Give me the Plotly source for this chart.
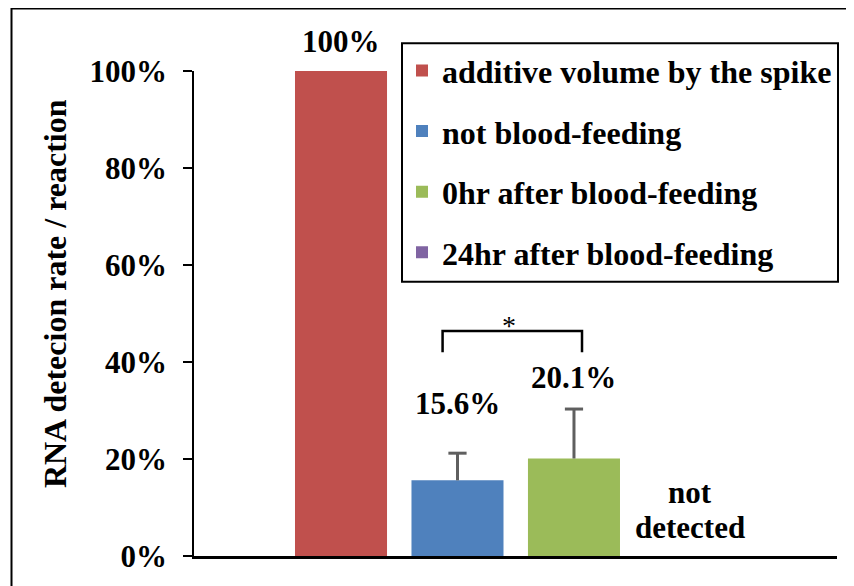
import plotly.graph_objects as go

# ---- data ----
series_names = ["additive volume by the spike", "not blood-feeding",
                "0hr after blood-feeding", "24hr after blood-feeding"]
values = [100.0, 15.6, 20.1, 0.0]
errors_up = [None, 5.6, 10.2, None]
value_labels = ["100%", "15.6%", "20.1%", None]
colors = ["#C0504D", "#4F81BD", "#9BBB59", "#8064A2"]
x_pos = [0, 1, 2, 3]
tick_vals = [0, 20, 40, 60, 80, 100]
tick_text = ["0%", "20%", "40%", "60%", "80%", "100%"]
y_title = "RNA detecion rate / reaction"
nd_label = ["not", "detected"]
# significance bracket between groups 1 and 2
bracket_x = [0.872, 2.069]
bracket_y = [42.0, 46.4]

FONT = "Liberation Serif"
ERR_COLOR = "#5f5f5f"
fig = go.Figure()

for i in range(4):
    fig.add_trace(go.Bar(
        x=[x_pos[i]], y=[values[i]], name=series_names[i],
        marker=dict(color=colors[i], line=dict(width=0)),
        width=0.79, legendgroup=str(i), showlegend=True,
    ))

# upward-only error bars (stem + top cap), built from values and errors
for i in range(4):
    if errors_up[i] is None:
        continue
    top = values[i] + errors_up[i]
    fig.add_trace(go.Scatter(
        x=[x_pos[i], x_pos[i]], y=[values[i], top], mode="lines",
        line=dict(color=ERR_COLOR, width=3), showlegend=False, hoverinfo="skip"))
    fig.add_trace(go.Scatter(
        x=[x_pos[i]], y=[top], mode="markers",
        marker=dict(symbol="line-ew", size=13, line=dict(color=ERR_COLOR, width=3)),
        showlegend=False, hoverinfo="skip", cliponaxis=False))

PLOT_L, PLOT_T, PLOT_W, PLOT_H = 194, 71, 643, 488  # page pixel frame of plot area


def px_x(p):
    return (p - PLOT_L) / PLOT_W


def px_y(p):
    return (PLOT_T + PLOT_H - p) / PLOT_H


annotations = []
bold = dict(family=FONT, size=31, color="black", weight="bold")
# top label (above axis range -> paper ref)
annotations.append(dict(x=x_pos[0], y=px_y(41.7), text=value_labels[0], showarrow=False,
                        xref="x", yref="paper", yanchor="middle", font=bold))
label_y = [None, 31.4, 36.8, None]
for i in (1, 2):
    annotations.append(dict(x=x_pos[i], y=label_y[i], text=value_labels[i], showarrow=False,
                            xref="x", yref="y", yanchor="middle", font=bold))
annotations.append(dict(x=3, y=13.1, text=nd_label[0], showarrow=False, xref="x", yref="y",
                        font=bold))
annotations.append(dict(x=3, y=5.8, text=nd_label[1], showarrow=False, xref="x", yref="y",
                        font=bold))
annotations.append(dict(x=(bracket_x[0] + bracket_x[1]) / 2 - 0.03, y=bracket_y[1] - 2.5, text="*",
                        showarrow=False, xref="x", yref="y", yanchor="bottom",
                        font=dict(family=FONT, size=28, color="black")))
annotations.append(dict(x=px_x(55), y=px_y(295.5), text=y_title, textangle=-90,
                        showarrow=False, xref="paper", yref="paper",
                        xanchor="center", yanchor="middle",
                        font=dict(family=FONT, size=32, color="black", weight="bold")))

shapes = [
    # bracket
    dict(type="path", xref="x", yref="y",
         path=f"M {bracket_x[0]},{bracket_y[0]} L {bracket_x[0]},{bracket_y[1]} "
              f"L {bracket_x[1]},{bracket_y[1]} L {bracket_x[1]},{bracket_y[0]}",
         line=dict(color="black", width=2.5)),
    # legend box
    dict(type="rect", xref="paper", yref="paper",
         x0=px_x(402), x1=px_x(838), y0=px_y(283), y1=px_y(43),
         line=dict(color="black", width=2), fillcolor="rgba(0,0,0,0)"),
    # outer border
    dict(type="rect", xref="paper", yref="paper",
         x0=px_x(11.5), x1=1.3, y0=-0.3, y1=px_y(8),
         line=dict(color="black", width=2), fillcolor="rgba(0,0,0,0)"),
]

OFF = 8  # page body margin
fig.update_layout(
    width=854 - OFF, height=586 - OFF,
    margin=dict(l=PLOT_L - OFF, r=17, t=PLOT_T - OFF, b=27),
    paper_bgcolor="white", plot_bgcolor="white",
    barmode="overlay",
    showlegend=True,
    legend=dict(x=px_x(402), y=px_y(43), xanchor="left", yanchor="top",
                bgcolor="rgba(0,0,0,0)", borderwidth=0, traceorder="grouped",
                tracegroupgap=16,
                font=dict(family=FONT, size=32, color="black", weight="bold")),
    xaxis=dict(range=[-1.262, 4.258], showline=True, linecolor="black", linewidth=2.5,
               showticklabels=False, ticks="", showgrid=False, zeroline=False),
    yaxis=dict(range=[0, 100], tickvals=tick_vals, ticktext=tick_text,
               showline=True, linecolor="black", linewidth=1.5,
               ticks="outside", ticklen=9, tickwidth=1.5, tickcolor="black",
               ticklabelstandoff=10,
               tickfont=dict(family=FONT, size=31, color="black", weight="bold"),
               showgrid=False, zeroline=False),
    annotations=annotations,
    shapes=shapes,
)

fig.write_html("out.html")
